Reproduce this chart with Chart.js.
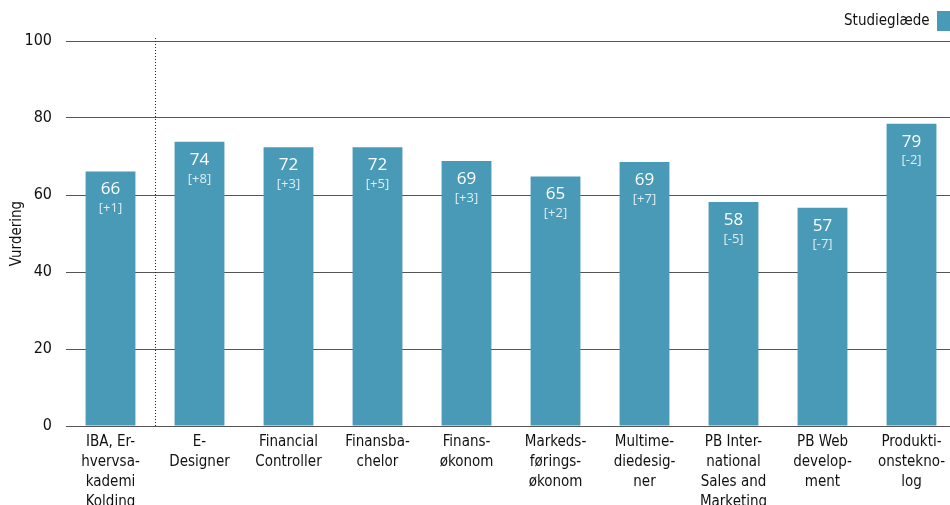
<!DOCTYPE html>
<html>
<head>
<meta charset="utf-8">
<script src="https://cdn.jsdelivr.net/npm/chart.js@4.4.1/dist/chart.umd.min.js"></script>
<style>
  html, body { margin: 0; padding: 0; background: #fff; overflow: hidden; }
  #wrap { width: 956px; height: 505px; }
</style>
</head>
<body>
<div id="wrap"><canvas id="myChart"></canvas></div>
<script>
// data
const categories = [
  ['IBA, Er-', 'hvervsa-', 'kademi', 'Kolding'],
  ['E-', 'Designer'],
  ['Financial', 'Controller'],
  ['Finansba-', 'chelor'],
  ['Finans-', 'økonom'],
  ['Markeds-', 'førings-', 'økonom'],
  ['Multime-', 'diedesig-', 'ner'],
  ['PB Inter-', 'national', 'Sales and', 'Marketing'],
  ['PB Web', 'develop-', 'ment'],
  ['Produkti-', 'onstekno-', 'log']
];
const values = [66.1, 73.8, 72.4, 72.4, 68.8, 64.8, 68.6, 58.2, 56.7, 78.5];
const changes = ['[+1]', '[+8]', '[+3]', '[+5]', '[+3]', '[+2]', '[+7]', '[-5]', '[-7]', '[-2]'];
const yTicks = [0, 20, 40, 60, 80, 100];

const barColor = 'rgb(73,154,183)';
const font = '"DejaVu Sans Condensed", "DejaVu Sans", sans-serif';

// labels inside the bars
const barLabels = {
  id: 'barLabels',
  afterDatasetsDraw(chart) {
    const ctx = chart.ctx;
    const meta = chart.getDatasetMeta(0);
    ctx.save();
    ctx.textAlign = 'center';
    ctx.textBaseline = 'middle';
    meta.data.forEach((bar, i) => {
      ctx.fillStyle = '#fff';
      ctx.font = '17px "Open Sans", sans-serif';
      ctx.fillText(Math.round(values[i]), bar.x, bar.y + 18);
      ctx.fillStyle = 'rgba(255,255,255,0.82)';
      ctx.font = '13px "Open Sans", sans-serif';
      ctx.fillText(changes[i], bar.x, bar.y + 37);
    });
    ctx.restore();
  }
};

// dotted separator after first bar
const separator = {
  id: 'separator',
  afterDatasetsDraw(chart) {
    const ctx = chart.ctx;
    const x = (chart.scales.x.getPixelForValue(0) + chart.scales.x.getPixelForValue(1)) / 2;
    ctx.save();
    ctx.strokeStyle = '#222';
    ctx.lineWidth = 1;
    ctx.setLineDash([1, 2]);
    ctx.beginPath();
    ctx.moveTo(Math.round(x) + 0.5, chart.chartArea.top - 3);
    ctx.lineTo(Math.round(x) + 0.5, chart.chartArea.bottom);
    ctx.stroke();
    ctx.restore();
  }
};

const ctx = document.getElementById('myChart');

new Chart(ctx, {
  type: 'bar',
  data: {
    labels: categories,
    datasets: [{
      label: 'Studieglæde',
      data: values,
      backgroundColor: barColor,
      categoryPercentage: 1,
      barPercentage: 0.56
    }]
  },
  options: {
    responsive: true,
    maintainAspectRatio: false,
    animation: false,
    layout: { padding: { top: 6, right: 0, bottom: 0, left: 0 } },
    plugins: {
      tooltip: { enabled: false },
      legend: {
        position: 'top',
        align: 'start',
        rtl: true,
        textDirection: 'ltr',
        labels: {
          boxWidth: 14,
          boxHeight: 20,
          padding: 5,
          color: '#111',
          font: { family: font, size: 15 }
        }
      }
    },
    scales: {
      y: {
        min: 0,
        max: 100,
        afterFit(scale) { scale.width = 66; },
        ticks: {
          stepSize: 20,
          padding: 14,
          color: '#111',
          font: { family: font, size: 16 }
        },
        grid: { color: '#555', drawTicks: false },
        border: { display: false },
        title: {
          display: true,
          text: 'Vurdering',
          color: '#111',
          padding: { top: 8, bottom: 0 },
          font: { family: font, size: 15 }
        }
      },
      x: {
        afterFit(scale) { scale.height = 79; },
        grid: { display: false, drawTicks: false },
        border: { display: true, color: '#555' },
        ticks: {
          maxRotation: 0,
          autoSkip: false,
          padding: 6,
          color: '#111',
          font: { family: font, size: 15, lineHeight: 1.34 }
        }
      }
    }
  },
  plugins: [barLabels, separator]
});
</script>
</body>
</html>
